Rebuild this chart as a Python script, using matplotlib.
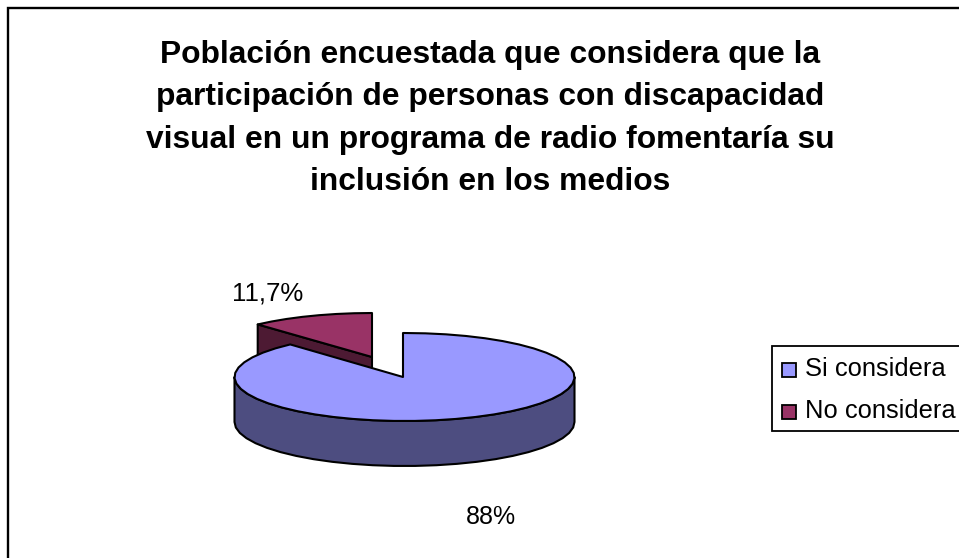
import numpy as np
import matplotlib
matplotlib.use("Agg")
import matplotlib.pyplot as plt
from matplotlib.patches import Polygon, Rectangle

title_text = ("Población encuestada que considera que la\n"
              "participación de personas con discapacidad\n"
              "visual en un programa de radio fomentaría su\n"
              "inclusión en los medios")
categories = ["Si considera", "No considera"]
values = [88, 11.7]
value_labels = ["88%", "11,7%"]
top_colors = ["#9999FF", "#993366"]
side_colors = ["#4D4D80", "#4D1A33"]

plt.rcParams["font.family"] = ["Liberation Sans", "DejaVu Sans"]
W, H = 959, 558
fig = plt.figure(figsize=(W / 100, H / 100), dpi=100)
ax = fig.add_axes([0, 0, 1, 1])
ax.set_xlim(0, W)
ax.set_ylim(H, 0)
ax.axis("off")
LW = 1.5

# chart frame (right and bottom edges fall outside the picture)
ax.add_patch(Rectangle((8.3, 8.2), W + 20, H + 20, fc="white", ec="black", lw=1.7, zorder=0))

RX, RY, DEPTH = 170, 44, 45
frac = np.array(values) / sum(values)
big_end = frac[0] * 2 * np.pi  # clockwise from 12 o'clock


def rim(cx, cy, a0, a1, n=40, dz=0):
    a = np.linspace(a0, a1, n)
    return np.column_stack([cx + RX * np.sin(a), cy - RY * np.cos(a) + dz])


# exploded small slice
sx, sy = 372, 357
tip = rim(sx, sy, big_end, big_end, 1)[0]
face = [(sx, sy), tuple(tip), (tip[0], tip[1] + DEPTH), (sx, sy + DEPTH)]
ax.add_patch(Polygon(face, closed=True, fc=side_colors[1], ec="black", lw=LW, joinstyle="round", zorder=2))
pts = np.vstack([[sx, sy], rim(sx, sy, big_end, 2 * np.pi, 8)])
ax.add_patch(Polygon(pts, closed=True, fc=top_colors[1], ec="black", lw=LW, joinstyle="round", zorder=3))

# large slice: side wall, then top
cx, cy = 404.5, 377
front_top = rim(cx, cy, np.pi / 2, 3 * np.pi / 2, 26)
front_bot = rim(cx, cy, np.pi / 2, 3 * np.pi / 2, 26, dz=DEPTH)
ax.add_patch(Polygon(np.vstack([front_top, front_bot[::-1]]), closed=True, fc=side_colors[0],
                     ec="black", lw=LW, joinstyle="round", zorder=4))
pts = np.vstack([[cx - 1.5, cy], [cx - 1.5, cy - RY], rim(cx, cy, 0, big_end, 46)])
ax.add_patch(Polygon(pts, closed=True, fc=top_colors[0], ec="black", lw=LW, joinstyle="round", zorder=5))

# texts
ax.text(490, 118.5, title_text, ha="center", va="center", fontsize=22.9, fontweight="bold",
        linespacing=1.54, color="black", zorder=6)
ax.text(491, 517, value_labels[0], ha="center", va="center", fontsize=18, zorder=6)
ax.text(268, 293, value_labels[1], ha="center", va="center", fontsize=18.6, zorder=6)

# legend
ax.add_patch(Rectangle((772, 346), W, 85, fc="white", ec="black", lw=1.3, zorder=6))
for name, col, y in zip(categories, top_colors, [370, 412]):
    ax.add_patch(Rectangle((782, y - 7), 14, 14, fc=col, ec="black", lw=1.3, zorder=7))
    ax.text(805, y - 0.5, name, ha="left", va="center", fontsize=18.4, zorder=7)

fig.savefig("out.png", dpi=100)
